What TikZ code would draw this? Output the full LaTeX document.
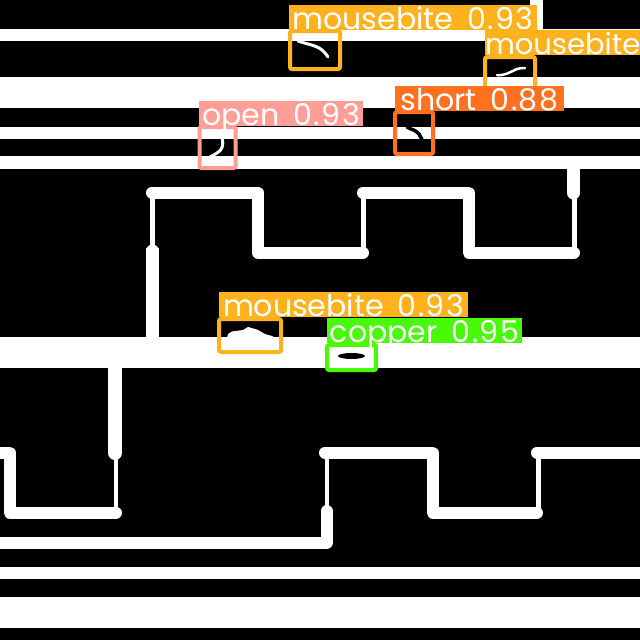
\documentclass[tikz,border=0pt]{standalone}
\usepackage{fontspec}
\setmainfont{Poppins}
\newfontfamily\scorefont[LetterSpace=5]{Poppins}
\newcommand{\scoretext}[1]{\hspace{14pt}{\scorefont #1}}
\definecolor{cOpen}{HTML}{FF9D97}
\definecolor{cShort}{HTML}{FF701F}
\definecolor{cBite}{HTML}{FFB21D}
\definecolor{cCopper}{HTML}{48F90A}
\tikzset{
  band/.style={fill=white},
  wide/.style={draw=white,line width=12pt,line cap=round,line join=round},
  thin/.style={draw=white,line width=5pt},
  defect/.style={draw=white,line width=3pt,line cap=round,line join=round},
  cut/.style={draw=black,line width=3.5pt,line cap=round,line join=round},
  defectbox/.style={draw=#1,line width=4pt,rounded corners=2pt,inner sep=0pt,outer sep=0pt,anchor=north west},
  tag/.style={fill=#1,text=white,inner sep=0pt,outer sep=0pt,anchor=north west,minimum height=25pt,
    font=\fontsize{30}{30}\selectfont,text height=23.5pt,text depth=0.5pt}
}
\begin{document}
\begin{tikzpicture}[x=1pt,y=-1pt]
\useasboundingbox (0,0) rectangle (640,640);
\clip (0,0) rectangle (640,640);
\fill[black] (0,0) rectangle (640,640);
% horizontal bands
\fill[band] (0,29) rectangle (640,41);
\fill[band] (0,77) rectangle (640,108);
\fill[band] (0,127) rectangle (640,139);
\fill[band] (0,156) rectangle (640,169);
\fill[band] (0,337) rectangle (640,368);
\fill[band] (0,567) rectangle (640,579);
\fill[band] (0,597) rectangle (640,628);
\fill[band] (530,0) rectangle (543,29);
% upper meander
\draw[wide,line width=13pt,line cap=butt] (152.5,337) -- (152.5,248);
\draw[wide,line width=13pt] (152.5,252) -- (152.5,251);
\draw[thin] (152.5,250) -- (152.5,192);
\draw[wide] (152,192.5) -- (258,192.5) -- (258,252.5) -- (363,252.5);
\draw[thin] (363,252) -- (363,192);
\draw[wide] (363,192.5) -- (468.5,192.5) -- (468.5,252.5) -- (574,252.5);
\draw[thin] (574.5,252) -- (574.5,192);
\draw[wide,line width=13pt,line cap=butt] (573.5,165) -- (573.5,192);
\draw[wide,line width=13pt] (573.5,192) -- (573.5,193);
% lower meander
\draw[wide,line width=14pt,line cap=butt] (115,365) -- (115,452);
\draw[wide,line width=14pt] (115,452) -- (115,453);
\draw[thin,line width=4pt] (116,455) -- (116,510);
\draw[wide] (116,512.5) -- (9.5,512.5) -- (9.5,452.5) -- (-8,452.5);
\draw[wide] (-8,542.5) -- (326.5,542.5) -- (326.5,511);
\draw[thin,line width=4pt] (327,455) -- (327,510);
\draw[wide] (325,452.5) -- (432.5,452.5) -- (432.5,512.5) -- (537,512.5);
\draw[thin] (538.5,510) -- (538.5,455);
\draw[wide] (537,452.5) -- (650,452.5);
% defects inside the boxes
\draw[defect] (298,41) .. controls (306,44) and (316,45) .. (322,50) .. controls (325,53) and (327,55) .. (328,57);
\draw[defect] (222,138) .. controls (224,146) and (222,150) .. (217,153) .. controls (214,155) and (212,156) .. (210,157);
\draw[defect,line width=2.5pt] (497,75) .. controls (505,76) and (510,72) .. (517,69) .. controls (520,68) and (523,68) .. (525,68);
\draw[cut] (407,127) .. controls (412,130) and (416,130) .. (419,134) .. controls (420,136) and (421,138) .. (422,139);
\fill[white] (227,338) -- (228,334) -- (232,331.5) -- (243,330) -- (248,327) -- (257,329.5) -- (265,334) -- (272,336) -- (276,338) -- cycle;
\fill[black] (351.5,356) ellipse (13.5pt and 3pt);
% detection boxes
\node[defectbox=cBite,minimum width=50pt,minimum height=38pt] (boxbiteA) at (290,31) {};
\node[defectbox=cBite,minimum width=50pt,minimum height=32pt] (boxbiteB) at (485,57) {};
\node[defectbox=cOpen,minimum width=36pt,minimum height=41pt] (boxopen) at (199.5,127) {};
\node[defectbox=cShort,minimum width=38pt,minimum height=42pt] (boxshort) at (395,112) {};
\node[defectbox=cBite,minimum width=62pt,minimum height=33pt] (boxbiteC) at (219,319) {};
\node[defectbox=cCopper,minimum width=49pt,minimum height=25pt] (boxcopper) at (327,345) {};
% labels
\node[tag=cBite,minimum width=248pt] (tagbiteA) at (289,5) {mousebite\scoretext{0.93}};
\node[tag=cBite,minimum width=155pt,font=\fontsize{29}{30}\selectfont] (tagbiteB) at (485,30) {mousebite};
\node[tag=cOpen,minimum width=164pt] (tagopen) at (199,101) {open\scoretext{0.93}};
\node[tag=cShort,minimum width=169pt] (tagshort) at (395,86) {short\scoretext{0.88}};
\node[tag=cBite,minimum width=249pt] (tagbiteC) at (219,292) {mousebite\scoretext{0.93}};
\node[tag=cCopper,minimum width=195pt] (tagcopper) at (327,318) {copper\scoretext{0.95}};
\end{tikzpicture}
\end{document}
